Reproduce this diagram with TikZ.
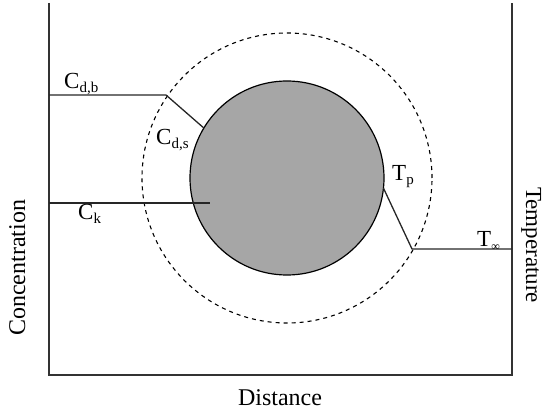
\documentclass[tikz,border=0pt]{standalone}
\usepackage{fontspec}
\setmainfont{Liberation Serif}
\begin{document}
\begin{tikzpicture}[x=1pt,y=-1pt,
  axis/.style={line width=1.5pt,draw=black!80},
  prof/.style={line width=1.3pt,draw=black!85},
  lab/.style={font=\fontsize{23}{25}\selectfont,inner sep=0pt}]
\newcommand{\sbs}[1]{\textsubscript{\fontsize{15}{16}\selectfont #1}}
\useasboundingbox (0,0) rectangle (544,414);
% axes
\coordinate (tl) at (49,3);
\coordinate (bl) at (49,375);
\coordinate (br) at (512,375);
\coordinate (tr) at (512,3);
\draw[axis] (tl) -- (bl) -- (br) -- (tr);
% particle and film
\node[circle,draw=black,line width=1.2pt,fill=black!35,minimum size=194pt,inner sep=0pt,outer sep=0pt] (p) at (287,178) {};
\node[circle,draw=black,line width=1.1pt,dash pattern=on 4pt off 4pt,minimum size=290pt,inner sep=0pt,outer sep=0pt] (f) at (287,178) {};
% concentration profiles
\coordinate (cb0) at (49,95);
\coordinate (cb1) at (166,95);
\draw[prof] (cb0) -- (cb1) -- (p.149);
\coordinate (ck0) at (49,203);
\coordinate (ck1) at (210,203);
\draw[prof] (ck0) -- (ck1);
% temperature profile
\coordinate (t1) at (412,249);
\coordinate (t2) at (512,249);
\draw[prof] (p.-6) -- (t1) -- (t2);
% labels
\node[lab,anchor=base west] (lcb) at (64,89) {C\sbs{d,b}};
\node[lab,anchor=base west] (lcs) at (156,145) {C\sbs{d,s}};
\node[lab,anchor=base west] (lck) at (78,220) {C\sbs{k}};
\node[lab,anchor=base west] (ltp) at (392,181) {T\sbs{p}};
\node[lab,anchor=base west] (lti) at (477,247) {T\textsubscript{\fontsize{12}{14}\selectfont ∞}};
\node[lab,font=\fontsize{24}{26}\selectfont] (ld) at (280,398) {Distance};
\node[lab,font=\fontsize{24}{26}\selectfont,rotate=90,anchor=base] (lc) at (25,268) {Concentration};
\node[lab,font=\fontsize{23}{25}\selectfont,rotate=-90,anchor=base] (lt) at (526,245) {Temperature};
\end{tikzpicture}
\end{document}
